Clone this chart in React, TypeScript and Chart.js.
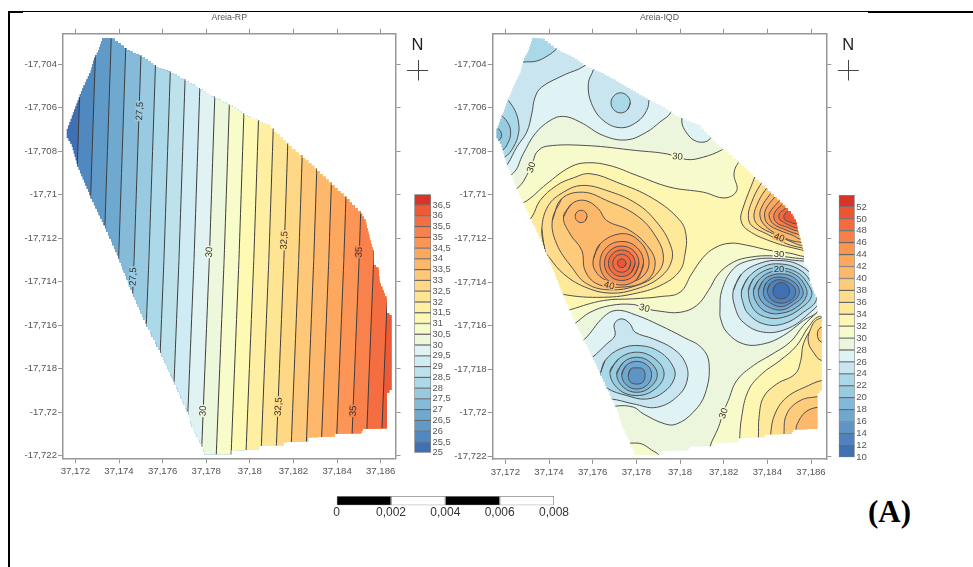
import React, { useEffect, useRef } from "react";
import { Chart, registerables } from "chart.js";
Chart.register(...registerables);

type P = number[];
// All map coordinates: [a, b] means longitude 37.(a/1000), latitude -17.(b/1000)
const geo = (pts: P[]) => pts.map(([a, b]) => ({ x: 37 + a / 1000, y: -17 - b / 1000 }));
const ring = (pts: P[]) => [...pts, pts[0], pts[1]];

const xTickValues = [37.172, 37.174, 37.176, 37.178, 37.18, 37.182, 37.184, 37.186];
const xTickLabels = ["37,172", "37,174", "37,176", "37,178", "37,18", "37,182", "37,184", "37,186"];
const yTickValues = [-17.704, -17.706, -17.708, -17.71, -17.712, -17.714, -17.716, -17.718, -17.72, -17.722];
const yTickLabels = ["-17,704", "-17,706", "-17,708", "-17,71", "-17,712", "-17,714", "-17,716", "-17,718", "-17,72", "-17,722"];

const boundary: P[] = [
  [173.22, 702.81], [173.66, 702.84], [174.35, 703.37], [175.04, 703.68], [175.69, 704.14], [176.37, 704.41],
  [177.05, 704.79], [177.71, 705.18], [178.4, 705.58], [179.05, 705.9], [179.74, 706.36], [180.43, 706.66],
  [180.84, 706.82], [181.1, 707.12], [181.77, 707.78], [182.41, 708.32], [183.08, 708.92], [183.74, 709.57],
  [184.43, 710.23], [185.07, 710.88], [185.3, 711.26], [185.47, 711.98], [185.68, 712.71], [185.68, 713.25],
  [185.89, 713.45], [185.95, 714.08], [186.26, 714.84], [186.29, 715.45], [186.49, 715.64], [186.49, 718.98],
  [186.29, 719.21], [186.29, 720.74], [185.27, 720.77], [185.11, 720.97], [184.0, 721.0], [183.89, 721.12],
  [182.67, 721.17], [182.67, 721.35], [181.68, 721.38], [181.53, 721.53], [180.53, 721.55], [180.38, 721.73],
  [179.16, 721.76], [179.16, 721.93], [177.94, 721.93], [177.86, 721.58], [177.33, 720.51], [177.18, 719.97],
  [176.56, 718.59], [175.88, 717.14], [175.27, 715.92], [174.66, 714.54], [173.97, 712.79], [173.36, 711.41],
  [172.7, 710.03], [172.09, 708.58], [171.83, 707.66], [171.6, 707.28], [171.6, 706.97], [171.83, 706.36],
  [172.09, 705.67], [172.37, 704.98], [172.7, 704.29], [172.85, 703.71], [173.05, 703.37],
];
const wholeMap: P[] = [[170, 701], [189, 701.2], [189.2, 724], [170.2, 724.2]];

// ---- Areia-RP ----
const rpLegendEdges = [25, 25.5, 26, 26.5, 27, 27.5, 28, 28.5, 29, 29.5, 30, 30.5, 31, 31.5, 32, 32.5, 33, 33.5, 34, 34.5, 35, 35.5, 36, 36.5, 37];
const rpLegendLabels = ["25", "25,5", "26", "26,5", "27", "27,5", "28", "28,5", "29", "29,5", "30", "30,5", "31", "31,5", "32", "32,5", "33", "33,5", "34", "34,5", "35", "35,5", "36", "36,5"];
const rpColors = ["#4070b4", "#5088c0", "#609ac8", "#70a9d0", "#85bbd9", "#98cbe2", "#abd9e9", "#bde2ec", "#cfebf4", "#e0f3f2", "#edf7dc", "#f8fccb", "#fef9b3", "#feefa3", "#fee594", "#fed885", "#fec878", "#fdb86b", "#fda75f", "#fc9555", "#f9814b", "#f56e42", "#ec5a38", "#d83528"];
// longitude of each contour (25.5 upward) at latitudes 702, 713, 723
const rpLinesAt702 = [172.31, 172.97, 173.67, 174.35, 175.06, 175.74, 176.43, 177.12, 177.81, 178.51, 179.19, 179.87, 180.55, 181.24, 181.93, 182.61, 183.3, 183.99, 184.68, 185.38, 186.05, 186.74];
const rpLinesAt713 = [171.94, 172.6, 173.3, 173.98, 174.69, 175.37, 176.06, 176.75, 177.44, 178.14, 178.82, 179.5, 180.18, 180.87, 181.56, 182.24, 182.93, 183.62, 184.31, 185.01, 185.68, 186.37];
const rpLinesAt723 = [171.54, 172.2, 172.9, 173.58, 174.29, 174.97, 175.66, 176.35, 177.04, 177.74, 178.42, 179.1, 179.78, 180.47, 181.16, 181.84, 182.53, 183.22, 183.91, 184.61, 185.28, 185.97];
const rpLabels = [
  { t: "27,5", a: 174.93, b: 706.16, r: -87, c: 5 }, { t: "27,5", a: 174.63, b: 713.77, r: -87, c: 5 },
  { t: "30", a: 178.12, b: 712.64, r: -87, c: 10 }, { t: "30", a: 177.83, b: 719.94, r: -87, c: 10 },
  { t: "32,5", a: 181.56, b: 712.1, r: -87, c: 15 }, { t: "32,5", a: 181.3, b: 719.74, r: -87, c: 15 },
  { t: "35", a: 184.99, b: 712.64, r: -87, c: 20 }, { t: "35", a: 184.73, b: 719.94, r: -87, c: 20 },
];

// ---- Areia-IQD ----
const iqdLegendEdges = [10, 12, 14, 16, 18, 20, 22, 24, 26, 28, 30, 32, 34, 36, 38, 40, 42, 44, 46, 48, 50, 52, 54];
const iqdLegendLabels = ["10", "12", "14", "16", "18", "20", "22", "24", "26", "28", "30", "32", "34", "36", "38", "40", "42", "44", "46", "48", "50", "52"];
const iqdColors = ["#4070b4", "#4f81bd", "#5e95c6", "#6ea7cf", "#82b8d8", "#97cbe0", "#a9d8e8", "#c9e6f0", "#dff2f4", "#ecf6dd", "#f7fbcc", "#fef7b2", "#fee99a", "#fedc8c", "#fecb7b", "#fdb96b", "#fca95f", "#fb9553", "#f88048", "#f36b40", "#ea5536", "#d83528"];

const north28: P[] = [[171, 709.6], [172.32, 709.04], [172.82, 708.12], [173.36, 707.2], [174.05, 706.59], [174.66, 706.4], [175.42, 706.66], [176.49, 707.28], [177.56, 707.48], [178.47, 707.12], [179.08, 706.66], [179.59, 706.21], [180.4, 704.5], [175, 701.5], [170.5, 701.5], [170.5, 709]];
const north26: P[] = [[171.5, 709.4], [172.11, 708.58], [172.52, 707.81], [172.98, 707.12], [173.21, 706.28], [173.36, 705.52], [173.66, 705.06], [174.65, 704.52], [175.65, 704.06], [176.2, 703.4], [175.5, 701.5], [170.5, 701.5], [170.5, 709.2]];
const top24: P[] = [[172.3, 704], [172.82, 703.91], [173.44, 703.86], [173.97, 703.6], [174.32, 703.33], [174.8, 702.9], [174.5, 701.5], [171, 701.5], [171, 704.2]];
const lobe24: P[] = [[171.8, 705.2], [172.14, 705.67], [172.44, 706.13], [172.6, 706.66], [172.6, 707.2], [172.37, 707.81], [171.98, 708.27], [171, 708.8], [170.6, 707], [171, 705.5]];
const lobe22: P[] = [[171.4, 706], [171.83, 706.36], [172.14, 706.74], [172.24, 707.12], [172.14, 707.58], [171.83, 707.97], [171, 708.2], [171, 706.2]];
const lobe20: P[] = [[171.2, 706.7], [171.68, 706.97], [171.83, 707.25], [171.68, 707.51], [171, 707.7], [171, 706.8]];
const dome26: P[] = [[176.2, 703.5], [176.03, 704.26], [175.8, 704.9], [175.95, 705.82], [176.49, 706.59], [177.28, 706.92], [178.02, 706.66], [178.47, 706.13], [178.58, 705.59], [178.6, 704.6], [177, 703]];
const dome24: P[] = [[177.72, 705.78], [177.59, 706.1], [177.28, 706.24], [176.97, 706.1], [176.84, 705.78], [176.97, 705.46], [177.28, 705.32], [177.59, 705.46]];
const notch28: P[] = [[180.3, 705.9], [180.08, 706.51], [180.23, 707.05], [180.76, 707.55], [181.37, 707.43], [181.5, 706.5]];
const main30: P[] = [[172, 710], [172.6, 709.65], [172.98, 709.11], [173.28, 708.43], [173.44, 708.04], [173.89, 707.77], [175.73, 707.74], [178.02, 707.97], [179.39, 708.12], [180.31, 708.38], [181.07, 708.27], [181.91, 707.94], [182.5, 707.5], [186.9, 711], [186.9, 713], [185.69, 712.94], [184.27, 712.8], [183.21, 712.86], [182.44, 713.09], [181.76, 713.63], [181.3, 714.39], [180.76, 715.08], [180, 715.39], [179.09, 715.34], [178.35, 715.2], [177.86, 715.03], [176.8, 715.08], [175.88, 715.39], [175.27, 715.84], [174.5, 716.4], [171.5, 712]];
const main32: P[] = [[172, 710.6], [172.87, 710.34], [173.89, 709.5], [174.96, 708.73], [175.73, 708.53], [176.79, 708.66], [178.02, 709.11], [179.54, 709.65], [181.07, 709.88], [182.06, 710.14], [182.6, 709.8], [182.47, 709.04], [182.67, 708.53], [183.2, 708], [186.9, 711], [186.9, 712.9], [185.69, 712.83], [185.04, 712.68], [184.12, 712.55], [183.05, 712.31], [182.29, 712.22], [181.6, 712.43], [181.07, 712.86], [180.53, 713.63], [180, 714.47], [179.09, 714.67], [177.86, 714.77], [176.49, 714.85], [175.01, 715.26], [174, 715.6], [171.5, 712]];
const hill34: P[] = [[172.5, 711.8], [173.21, 711.02], [173.59, 710.26], [174.35, 709.57], [175.12, 709.22], [175.88, 709.03], [177.1, 709.42], [178.78, 710.18], [180, 711.18], [180.28, 711.87], [180.23, 712.71], [180, 713.47], [179.24, 714.09], [178.02, 714.51], [176.49, 714.7], [174.66, 714.57], [173.6, 714.2], [172.5, 712.5]];
const hill36: P[] = [[173.82, 712.55], [173.67, 711.56], [173.97, 710.49], [174.66, 709.88], [175.5, 709.57], [176.64, 709.8], [178.02, 710.41], [178.93, 711.25], [179.54, 712.25], [179.62, 713.01], [179.09, 713.78], [178.02, 714.31], [176.8, 714.51], [175.62, 714.22], [174.66, 713.62], [174.05, 712.92]];
const hill38: P[] = [[174.15, 711.18], [174.58, 710.18], [175.57, 709.88], [176.64, 710.26], [178.02, 710.95], [178.86, 711.87], [179.24, 712.86], [178.93, 713.63], [178.02, 714.16], [176.8, 714.36], [175.73, 714.08], [175.04, 713.32], [174.35, 712.25]];
const hill40: P[] = [[174.66, 711.02], [175.04, 710.41], [175.65, 710.26], [176.26, 710.64], [176.64, 711.18], [177.71, 711.64], [178.55, 712.4], [178.86, 713.17], [178.47, 713.93], [177.25, 714.24], [176.19, 714.08], [175.65, 713.47], [175.5, 712.55], [174.96, 711.79]];
const hillSpot42: P[] = [[175.74, 710.99], [175.66, 711.19], [175.47, 711.27], [175.28, 711.19], [175.2, 710.99], [175.28, 710.79], [175.47, 710.71], [175.66, 710.79]];
const peak42: P[] = [[176.03, 712.94], [176.34, 712.25], [177.25, 711.79], [178.02, 712.02], [178.55, 712.86], [178.4, 713.63], [177.56, 714.05], [176.64, 713.93], [176.11, 713.47]];
const peak44: P[] = [[178.33, 713.14], [178.04, 713.85], [177.33, 714.14], [176.62, 713.85], [176.33, 713.14], [176.62, 712.43], [177.33, 712.14], [178.04, 712.43]];
const peak46: P[] = [[178.12, 713.14], [177.89, 713.7], [177.33, 713.93], [176.77, 713.7], [176.54, 713.14], [176.77, 712.58], [177.33, 712.35], [177.89, 712.58]];
const peak47: P[] = [[177.94, 713.14], [177.76, 713.57], [177.33, 713.75], [176.9, 713.57], [176.72, 713.14], [176.9, 712.71], [177.33, 712.53], [177.76, 712.71]];
const peak48: P[] = [[177.74, 713.14], [177.62, 713.43], [177.33, 713.55], [177.04, 713.43], [176.92, 713.14], [177.04, 712.85], [177.33, 712.73], [177.62, 712.85]];
const peak50: P[] = [[177.53, 713.14], [177.47, 713.28], [177.33, 713.34], [177.19, 713.28], [177.13, 713.14], [177.19, 713], [177.33, 712.94], [177.47, 713]];
const ne34: P[] = [[183.6, 708.6], [183.39, 709.26], [182.9, 710.56], [182.79, 711.18], [183.13, 711.64], [184.27, 712.17], [185.53, 712.52], [186.5, 712.7], [187, 710]];
const ne36: P[] = [[184.2, 708.9], [183.66, 709.57], [183.28, 710.34], [183.13, 710.95], [183.28, 711.41], [183.97, 711.79], [184.89, 712.25], [185.57, 712.43], [186.5, 712.6], [187, 710]];
const ne38: P[] = [[184.4, 709.2], [183.89, 709.8], [183.51, 710.49], [183.39, 711.02], [183.59, 711.41], [184.27, 711.79], [185.04, 712.13], [185.53, 712.32], [186.5, 712.5], [187, 710]];
const ne40: P[] = [[184.6, 709.4], [184.12, 709.98], [183.74, 710.56], [183.66, 710.95], [183.82, 711.33], [184.27, 711.71], [184.96, 712.05], [185.47, 712.17], [186.5, 712.3], [187, 710]];
const ne42: P[] = [[184.8, 709.6], [184.31, 710.14], [183.94, 710.64], [183.88, 711.02], [184.05, 711.36], [184.58, 711.64], [185.19, 711.87], [185.47, 712.02], [186.5, 712.2], [187, 710]];
const ne44: P[] = [[185, 709.8], [184.5, 710.33], [184.12, 710.79], [184.09, 711.02], [184.27, 711.33], [184.73, 711.56], [185.34, 711.79], [186.5, 712], [187, 710]];
const ne46: P[] = [[185.2, 710], [184.66, 710.46], [184.35, 710.79], [184.31, 711.1], [184.5, 711.33], [184.89, 711.48], [185.31, 711.64], [186.5, 711.8], [187, 710]];
const ne48: P[] = [[185.3, 710.2], [184.81, 710.64], [184.55, 710.87], [184.55, 711.1], [184.73, 711.25], [185.04, 711.41], [185.3, 711.51], [186.5, 711.6], [187, 710]];
const ne50: P[] = [[185.4, 710.4], [184.92, 710.75], [184.76, 710.95], [184.81, 711.15], [185.04, 711.25], [185.27, 711.33], [186.5, 711.4], [187, 710]];
const sw28: P[] = [[175, 717], [175.62, 716.63], [176.49, 715.61], [177.1, 715.3], [178.02, 715.53], [179.08, 715.99], [180.15, 716.53], [180.99, 717.02], [181.33, 717.75], [181.15, 719.13], [180.61, 719.97], [179.85, 720.51], [179.31, 720.51], [178.32, 720.05], [177.86, 719.74], [177.02, 719.7], [176, 720]];
const sw26: P[] = [[175.2, 718], [175.99, 717.45], [176.64, 716.84], [177.02, 716.46], [176.99, 715.92], [177.33, 715.69], [177.71, 715.92], [177.94, 716.3], [178.78, 716.61], [179.7, 717.07], [180.23, 717.68], [180.34, 718.45], [179.92, 719.21], [178.93, 719.75], [177.86, 719.59], [176.79, 719.37], [175.8, 719.5]];
const sw24: P[] = [[176.37, 718.14], [176.57, 717.6], [177.25, 717.07], [178.17, 716.92], [179.09, 717.22], [179.7, 717.91], [179.73, 718.45], [179.24, 719.06], [178.47, 719.37], [177.56, 719.21], [176.64, 718.86], [176.34, 718.45]];
const sw22: P[] = [[176.79, 718.14], [177.18, 717.53], [178.02, 717.22], [178.86, 717.53], [179.27, 718.22], [178.86, 718.91], [178.02, 719.21], [177.18, 718.91]];
const sw20: P[] = [[177.1, 718.22], [177.41, 717.68], [178.02, 717.45], [178.63, 717.68], [178.96, 718.25], [178.63, 718.83], [178.02, 719.06], [177.41, 718.83]];
const sw18: P[] = [[177.33, 718.25], [177.53, 717.83], [178.02, 717.64], [178.51, 717.83], [178.7, 718.25], [178.51, 718.71], [178.02, 718.91], [177.53, 718.71]];
const sw16: P[] = [[177.63, 718.29], [177.74, 717.99], [178.02, 717.94], [178.29, 717.99], [178.4, 718.29], [178.29, 718.6], [178.02, 718.68], [177.74, 718.6]];
const east28: P[] = [[186.5, 713], [185.68, 713.04], [184.27, 712.91], [183.21, 713.01], [182.44, 713.4], [181.91, 714.39], [181.83, 715.31], [181.86, 715.69], [182.14, 716.3], [182.9, 716.84], [183.82, 716.84], [184.73, 716.46], [185.65, 715.77], [186.34, 715.31], [187, 714]];
const east26: P[] = [[182.44, 714.39], [182.82, 713.63], [183.66, 713.14], [184.58, 713.01], [185.5, 713.24], [186.18, 713.86], [186.49, 714.7], [185.8, 715.54], [184.89, 716.15], [183.82, 716.3], [182.9, 715.85], [182.52, 715.16]];
const east24: P[] = [[182.82, 714.39], [183.13, 713.78], [183.82, 713.29], [184.58, 713.17], [185.42, 713.4], [185.95, 713.93], [186.26, 714.77], [185.65, 715.39], [184.73, 715.92], [183.82, 715.92], [183.13, 715.46], [182.9, 715]];
const east22: P[] = [[183.13, 714.39], [183.36, 713.86], [183.97, 713.44], [184.58, 713.35], [185.34, 713.55], [185.8, 714.01], [186.03, 714.62], [185.5, 715.23], [184.73, 715.62], [183.97, 715.62], [183.36, 715.23]];
const east20: P[] = [[183.36, 714.39], [183.59, 713.93], [184.05, 713.58], [184.63, 713.47], [185.27, 713.66], [185.68, 714.09], [185.8, 714.62], [185.34, 715.16], [184.66, 715.43], [184, 715.39], [183.54, 715]];
const east18: P[] = [[183.59, 714.39], [183.79, 713.96], [184.12, 713.72], [184.63, 713.63], [185.19, 713.78], [185.53, 714.16], [185.62, 714.62], [185.19, 715.03], [184.66, 715.28], [184.09, 715.16], [183.71, 714.85]];
const east16: P[] = [[183.82, 714.39], [183.94, 714.05], [184.24, 713.82], [184.63, 713.78], [185.11, 713.93], [185.42, 714.24], [185.42, 714.62], [185.04, 714.97], [184.63, 715.13], [184.2, 715], [183.89, 714.74]];
const east14: P[] = [[184, 714.39], [184.12, 714.09], [184.35, 713.93], [184.63, 713.9], [185.01, 714.05], [185.27, 714.31], [185.24, 714.67], [184.92, 714.91], [184.63, 714.97], [184.27, 714.88], [184.08, 714.67]];
const east12: P[] = [[184.26, 714.39], [184.35, 714.16], [184.63, 714.02], [184.89, 714.13], [185.01, 714.39], [184.92, 714.67], [184.63, 714.77], [184.35, 714.67]];
const se30: P[] = [[186.9, 714.9], [186.29, 715.39], [185.65, 716], [185.04, 716.76], [184.12, 717.37], [183.36, 717.83], [182.6, 718.52], [182.21, 719.44], [181.98, 719.98], [181.76, 720.67], [181.37, 721.55], [181, 723], [188, 723], [188, 715]];
const se32: P[] = [[188, 715.5], [186.38, 715.58], [185.88, 716.07], [185.34, 716.92], [184.58, 717.6], [183.74, 718.22], [183.13, 718.98], [182.82, 720.21], [182.72, 721.35], [182.6, 723], [188, 723]];
const se34: P[] = [[188, 715.5], [186.49, 715.77], [186.03, 716.15], [185.65, 716.84], [185.53, 717.6], [185.27, 718.22], [184.43, 718.68], [183.82, 719.29], [183.62, 720.21], [183.59, 721.12], [183.5, 723], [188, 723]];
const pocket36: P[] = [[188, 715.4], [186.34, 715.69], [185.95, 716.23], [185.88, 716.76], [186.11, 717.22], [186.49, 717.6], [188, 717.6]];
const pocket38: P[] = [[188, 716], [186.49, 716.07], [186.29, 716.38], [186.49, 716.76], [188, 716.8]];
const se36: P[] = [[188, 718.3], [186.49, 718.52], [185.88, 718.75], [184.89, 719.29], [184.35, 720.05], [184.15, 721], [184, 723], [188, 723]];
const se38: P[] = [[188, 719], [186.29, 719.26], [185.5, 719.44], [184.89, 720.05], [184.76, 721], [184.7, 723], [188, 723]];
const se40: P[] = [[188, 719.6], [186.29, 719.75], [185.73, 719.98], [185.37, 720.51], [185.31, 720.82], [185.2, 723], [188, 723]];
const south30: P[] = [[177, 721.4], [177.79, 721.39], [178.25, 721.43], [178.7, 721.71], [179.05, 721.97], [179.3, 722.8], [177, 722.8]];

// painted in this order; c is the class of the enclosed area
const iqdRegions: { c: number; p: P[] }[] = [
  { c: 8, p: north28 }, { c: 7, p: north26 }, { c: 6, p: top24 }, { c: 6, p: lobe24 }, { c: 5, p: lobe22 }, { c: 4, p: lobe20 },
  { c: 7, p: dome26 }, { c: 6, p: ring(dome24) }, { c: 8, p: notch28 },
  { c: 10, p: main30 }, { c: 11, p: main32 },
  { c: 12, p: hill34 }, { c: 13, p: ring(hill36) }, { c: 14, p: ring(hill38) }, { c: 15, p: ring(hill40) }, { c: 16, p: ring(hillSpot42) },
  { c: 16, p: ring(peak42) }, { c: 17, p: ring(peak44) }, { c: 18, p: ring(peak46) }, { c: 19, p: ring(peak47) }, { c: 19, p: ring(peak48) }, { c: 20, p: ring(peak50) },
  { c: 12, p: ne34 }, { c: 13, p: ne36 }, { c: 14, p: ne38 }, { c: 15, p: ne40 }, { c: 16, p: ne42 }, { c: 17, p: ne44 }, { c: 18, p: ne46 }, { c: 19, p: ne48 }, { c: 20, p: ne50 },
  { c: 8, p: sw28 }, { c: 7, p: sw26 }, { c: 6, p: ring(sw24) }, { c: 5, p: ring(sw22) }, { c: 4, p: ring(sw20) }, { c: 3, p: ring(sw18) }, { c: 2, p: ring(sw16) },
  { c: 8, p: east28 }, { c: 7, p: ring(east26) }, { c: 6, p: ring(east24) }, { c: 5, p: ring(east22) }, { c: 4, p: ring(east20) }, { c: 3, p: ring(east18) }, { c: 2, p: ring(east16) }, { c: 1, p: ring(east14) }, { c: 0, p: ring(east12) },
  { c: 10, p: se30 }, { c: 11, p: se32 }, { c: 12, p: se34 }, { c: 13, p: pocket36 }, { c: 14, p: pocket38 }, { c: 13, p: se36 }, { c: 14, p: se38 }, { c: 15, p: se40 },
  { c: 10, p: south30 },
];
const iqdLabels = [
  { t: "30", a: 179.89, b: 708.24, r: 5, c: 10 }, { t: "30", a: 173.18, b: 708.73, r: -70, c: 10 },
  { t: "40", a: 184.55, b: 711.95, r: 20, c: 15 }, { t: "30", a: 184.53, b: 712.71, r: 0, c: 10 },
  { t: "20", a: 184.53, b: 713.4, r: 0, c: 5 }, { t: "40", a: 176.76, b: 714.15, r: 15, c: 15 },
  { t: "30", a: 178.37, b: 715.19, r: 15, c: 10 }, { t: "30", a: 181.98, b: 720.02, r: -70, c: 10 },
];

const scaleEdges = [0, 0.002, 0.004, 0.006, 0.008];
const scaleLabels = ["0", "0,002", "0,004", "0,006", "0,008"];
const scaleColors = ["#000000", "#ffffff", "#000000", "#ffffff"];

const SANS = "'Liberation Sans', Arial, sans-serif";

function polyDs(pts: P[], color: string, i: number, n: number, stroke: string | null, tension: number) {
  return {
    data: geo(pts), showLine: true, fill: "shape", backgroundColor: color,
    borderColor: stroke || color, borderWidth: stroke ? 1 : 0, pointRadius: 0, tension, order: n - i,
  };
}

function mapChart(canvas: HTMLCanvasElement, cfg: any) {
  const { title, datasets, labels, colors, L, R, T, B, xMin, xMax } = cfg;
  const frame = "#979797";
  const toPx = (c: Chart, a: number, b: number) => [c.scales.x.getPixelForValue(37 + a / 1000), c.scales.y.getPixelForValue(-17 - b / 1000)];
  const mapPlugin = {
    id: "mapClip",
    beforeDatasetsDraw(c: Chart) {
      const ctx = c.ctx;
      ctx.save();
      ctx.beginPath();
      const cell = 3.5;
      boundary.forEach((p, i) => {
        const [x0, y0] = toPx(c, p[0], p[1]);
        const q = boundary[(i + 1) % boundary.length];
        const [x1, y1] = toPx(c, q[0], q[1]);
        if (i === 0) ctx.moveTo(x0, y0);
        const n = Math.max(1, Math.ceil(Math.max(Math.abs(x1 - x0), Math.abs(y1 - y0)) / cell));
        for (let k = 0; k < n; k++) {
          ctx.lineTo(x0 + ((x1 - x0) * (k + 1)) / n, y0 + ((y1 - y0) * k) / n);
          ctx.lineTo(x0 + ((x1 - x0) * (k + 1)) / n, y0 + ((y1 - y0) * (k + 1)) / n);
        }
      });
      ctx.closePath();
      ctx.clip();
    },
    afterDatasetsDraw(c: Chart) {
      c.ctx.restore();
    },
    afterDraw(c: Chart) {
      const ctx = c.ctx;
      labels.forEach((l: any) => {
        const [x, y] = toPx(c, l.a, l.b);
        ctx.save();
        ctx.translate(x, y);
        ctx.rotate((l.r * Math.PI) / 180);
        ctx.font = `9.5px ${SANS}`;
        const w = ctx.measureText(l.t).width;
        ctx.fillStyle = colors[l.c];
        ctx.fillRect(-w / 2 - 1, -4, w + 2, 8);
        ctx.fillStyle = "#333333";
        ctx.textAlign = "center";
        ctx.textBaseline = "middle";
        ctx.fillText(l.t, 0, 0.5);
        ctx.restore();
      });
      const nx = c.chartArea.right + 22;
      const top = 33;
      ctx.save();
      ctx.fillStyle = "#222222";
      ctx.font = `16.5px ${SANS}`;
      ctx.textAlign = "center";
      ctx.textBaseline = "middle";
      ctx.fillText("N", nx, top);
      ctx.strokeStyle = "#444444";
      ctx.lineWidth = 1;
      ctx.beginPath();
      ctx.moveTo(nx - 10.5, top + 25.5);
      ctx.lineTo(nx + 10.5, top + 25.5);
      ctx.moveTo(Math.round(nx) + 0.5, top + 15);
      ctx.lineTo(Math.round(nx) + 0.5, top + 35.5);
      ctx.stroke();
      ctx.restore();
    },
  };
  const fixTicks = (vals: number[]) => (s: any) => {
    s.ticks = vals.map((v) => ({ value: v }));
  };
  const grid = { display: true, drawOnChartArea: false, drawTicks: true, tickLength: 5, color: frame, lineWidth: 1 };
  const border = { display: true, color: frame, width: 1.5 };
  return new Chart(canvas, {
    type: "scatter",
    data: { datasets },
    plugins: [mapPlugin],
    options: {
      responsive: false, animation: false, events: [],
      layout: { padding: 0 },
      plugins: {
        legend: { display: false }, tooltip: { enabled: false },
        title: { display: true, text: title, color: "#555555", font: { family: SANS, size: 8.8, weight: "normal" }, padding: { top: 0.5, bottom: 0 }, fullSize: false },
      },
      scales: {
        x: {
          type: "linear", position: "bottom", min: xMin, max: xMax, grid, border,
          afterBuildTicks: fixTicks(xTickValues), afterFit: (s: any) => { s.height = B; },
          ticks: { autoSkip: false, maxRotation: 0, padding: 2.5, color: "#555555", font: { family: SANS, size: 9.6 }, callback: (_: any, i: number) => xTickLabels[i] },
        },
        xTop: {
          type: "linear", position: "top", min: xMin, max: xMax, grid, border,
          afterBuildTicks: fixTicks(xTickValues), afterFit: (s: any) => { s.height = T; },
          ticks: { display: false },
        },
        y: {
          type: "linear", position: "left", min: -17.72212, max: -17.70261, grid, border,
          afterBuildTicks: fixTicks(yTickValues), afterFit: (s: any) => { s.width = L; },
          ticks: { autoSkip: false, padding: 1, color: "#555555", font: { family: SANS, size: 9.6 }, callback: (_: any, i: number) => yTickLabels[i] },
        },
        yRight: {
          type: "linear", position: "right", min: -17.72212, max: -17.70261, grid, border,
          afterBuildTicks: fixTicks(yTickValues), afterFit: (s: any) => { s.width = R; },
          ticks: { display: false },
        },
      },
    } as any,
  });
}

function legendChart(canvas: HTMLCanvasElement, edges: number[], labels: string[], colors: string[], pad: any, rightW: number, size: number) {
  return new Chart(canvas, {
    type: "bar",
    data: {
      labels: [""],
      datasets: colors.map((c, i) => ({
        data: [[edges[i], edges[i + 1]]], backgroundColor: c, borderColor: "rgba(50,50,50,0.6)", borderWidth: 1, borderSkipped: false,
        grouped: false, barPercentage: 1, categoryPercentage: 1,
      })),
    } as any,
    options: {
      responsive: false, animation: false, events: [],
      layout: { padding: pad },
      plugins: { legend: { display: false }, tooltip: { enabled: false } },
      scales: {
        x: { display: false },
        y: {
          position: "right", min: edges[0], max: edges[edges.length - 1],
          grid: { display: false, drawTicks: false, tickLength: 0 }, border: { display: false },
          afterBuildTicks: (s: any) => { s.ticks = edges.slice(0, labels.length).map((v) => ({ value: v })); },
          afterFit: (s: any) => { s.width = rightW; },
          ticks: { autoSkip: false, padding: 1.5, color: "#555555", font: { family: SANS, size }, callback: (_: any, i: number) => labels[i] },
        },
      },
    } as any,
  });
}

function scaleBarChart(canvas: HTMLCanvasElement) {
  return new Chart(canvas, {
    type: "bar",
    data: {
      labels: [""],
      datasets: scaleColors.map((c, i) => ({
        data: [[scaleEdges[i], scaleEdges[i + 1]]], backgroundColor: c, borderColor: "#8a8a8a", borderWidth: 1, borderSkipped: false,
        grouped: false, barPercentage: 1, categoryPercentage: 1,
      })),
    } as any,
    options: {
      indexAxis: "y", responsive: false, animation: false, events: [],
      layout: { padding: { left: 16.7, right: 16, top: 6, bottom: 0 } },
      plugins: { legend: { display: false }, tooltip: { enabled: false } },
      scales: {
        y: { display: false },
        x: {
          type: "linear", min: 0, max: 0.008, grid: { display: false, drawTicks: false }, border: { display: false },
          afterBuildTicks: (s: any) => { s.ticks = scaleEdges.map((v) => ({ value: v })); },
          afterFit: (s: any) => { s.height = 16.7; },
          ticks: { autoSkip: false, maxRotation: 0, padding: 0, color: "#333333", font: { family: SANS, size: 12 }, callback: (_: any, i: number) => scaleLabels[i] },
        },
      },
    } as any,
  });
}

const abs = (left: number, top: number, width: number, height: number): React.CSSProperties => ({
  position: "absolute", left, top, width, height, display: "block", filter: "blur(0.45px)",
});

export default function App() {
  const rpRef = useRef<HTMLCanvasElement>(null);
  const iqdRef = useRef<HTMLCanvasElement>(null);
  const rpLegRef = useRef<HTMLCanvasElement>(null);
  const iqdLegRef = useRef<HTMLCanvasElement>(null);
  const barRef = useRef<HTMLCanvasElement>(null);

  useEffect(() => {
    const rpPolys: { c: number; p: P[] }[] = rpLinesAt713.map((m, i) => ({
      c: i + 1,
      p: [[rpLinesAt702[i], 702], [m, 713], [rpLinesAt723[i], 723], [189, 723.5], [189.1, 701.5]],
    }));
    const rpN = rpPolys.length + 1;
    const rpDatasets = [
      polyDs(wholeMap, rpColors[0], 0, rpN, null, 0.001),
      ...rpPolys.map((r, i) => polyDs(r.p, rpColors[r.c], i + 1, rpN, "#3d3d3d", 0.001)),
    ];
    const iqdN = iqdRegions.length + 1;
    const iqdDatasets = [
      polyDs(wholeMap, iqdColors[9], 0, iqdN, null, 0.001),
      ...iqdRegions.map((r, i) => polyDs(r.p, iqdColors[r.c], i + 1, iqdN, "#505050", 0.4)),
    ];
    const charts = [
      mapChart(rpRef.current!, {
        title: "Areia-RP", datasets: rpDatasets, labels: rpLabels, colors: rpColors,
        L: 51, R: 34.5, T: 10.7, B: 27.7, xMin: 37.17143, xMax: 37.18668,
      }),
      mapChart(iqdRef.current!, {
        title: "Areia-IQD", datasets: iqdDatasets, labels: iqdLabels, colors: iqdColors,
        L: 52.7, R: 43.7, T: 10.7, B: 27, xMin: 37.17142, xMax: 37.1867,
      }),
      legendChart(rpLegRef.current!, rpLegendEdges, rpLegendLabels, rpColors, { left: 9.3, top: 9.3, bottom: 12.3, right: 0 }, 24, 9.3),
      legendChart(iqdLegRef.current!, iqdLegendEdges, iqdLegendLabels, iqdColors, { left: 8.7, top: 9, bottom: 13.7, right: 0 }, 25.3, 9.6),
      scaleBarChart(barRef.current!),
    ];
    return () => charts.forEach((c) => c.destroy());
  }, []);

  return (
    <div style={{ position: "absolute", left: 0, top: 0, width: 973, height: 567, overflow: "hidden", background: "#ffffff" }}>
      <div style={{ position: "absolute", left: 8, top: 11, width: 2, height: 556, background: "#000" }} />
      <div style={{ position: "absolute", left: 8, top: 11, width: 965, height: 1, background: "#000" }} />
      <div style={{ position: "absolute", left: 8, top: 11, width: 15, height: 2, background: "#000" }} />
      <div style={{ position: "absolute", left: 868, top: 11, width: 105, height: 2, background: "#000" }} />
      <canvas ref={rpRef} width={418} height={474} style={abs(12, 12, 418, 474)} />
      <canvas ref={iqdRef} width={430} height={474} style={abs(440, 12, 430, 474)} />
      <canvas ref={rpLegRef} width={50} height={280} style={abs(405, 185, 50, 280)} />
      <canvas ref={iqdLegRef} width={50} height={285} style={abs(830, 186, 50, 285)} />
      <canvas ref={barRef} width={250} height={32} style={abs(320, 490, 250, 32)} />
      <div style={{ position: "absolute", left: 868, top: 494, fontFamily: "'Liberation Serif', serif", fontWeight: 700, fontSize: 31, lineHeight: "36px", color: "#000" }}>(A)</div>
    </div>
  );
}
